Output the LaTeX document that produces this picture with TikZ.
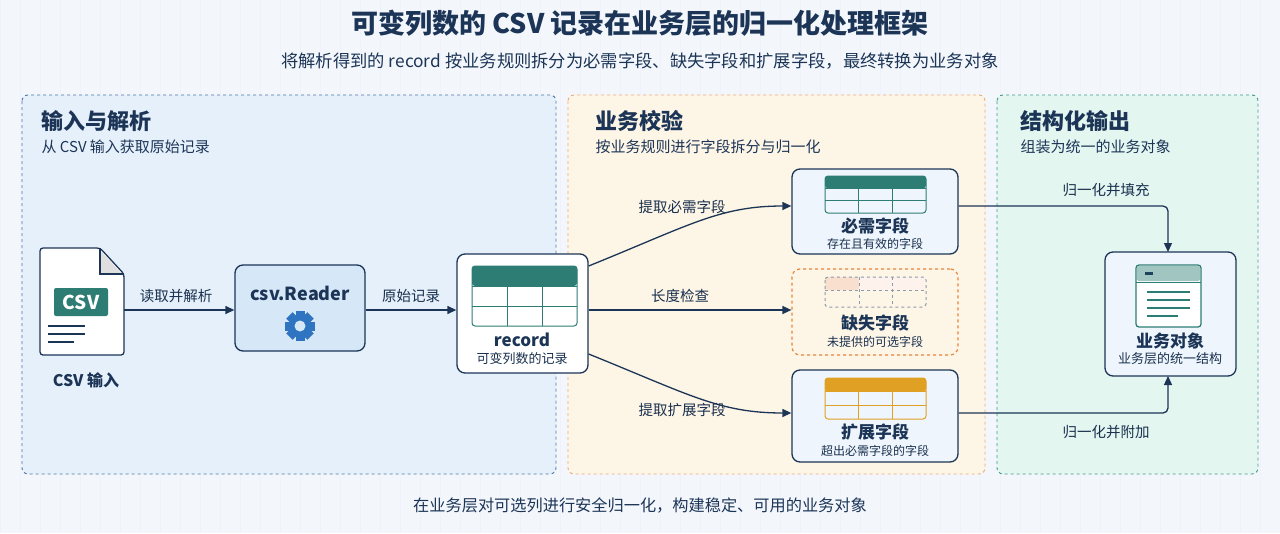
\documentclass[tikz,border=0pt]{standalone}
\usepackage{fontspec}
\setmainfont{Noto Sans CJK SC}
\usetikzlibrary{arrows.meta}
\definecolor{navy}{HTML}{1C3557}
\definecolor{teal}{HTML}{2E7D74}
\definecolor{gold}{HTML}{E0A024}
\definecolor{orng}{HTML}{E8843C}
\definecolor{bg}{HTML}{F3F7FB}
\definecolor{pblue}{HTML}{E6F0FB}
\definecolor{porng}{HTML}{FDF5E6}
\definecolor{pgrn}{HTML}{E4F6F0}
\definecolor{boxf}{HTML}{EEF5FC}
\definecolor{readf}{HTML}{D6E8F8}
\definecolor{gearb}{HTML}{2F74C0}
\definecolor{pbord}{HTML}{4A77A8}
\definecolor{gbord}{HTML}{3F9A8A}
\tikzset{
 x=1pt,y=-1pt,
 panel/.style={draw=#1, dashed, line width=0.9pt, rounded corners=6pt},
 box/.style={draw=navy, line width=1.3pt, rounded corners=8pt, fill=boxf},
 arr/.style={draw=navy, line width=1.3pt, -{Triangle[length=9pt,width=8pt]}},
 lab/.style={font=\fontsize{14.5}{16}\selectfont, text=navy!90!black},
 btitle/.style={font=\bfseries\fontsize{17}{19}\selectfont, text=navy},
 bsub/.style={font=\fontsize{12}{14}\selectfont, text=navy!90!black},
 ptitle/.style={anchor=west, font=\bfseries\fontsize{22}{24}\selectfont, text=navy},
 psub/.style={anchor=west, font=\fontsize{15}{17}\selectfont, text=navy},
}
\newcommand{\mytable}[6]{%
 \fill[#5, rounded corners=3pt] (#1,#2) rectangle (#3,{#2+(#4-#2)/3});
 \draw[#5, line width=1pt, rounded corners=3pt,#6] (#1,#2) rectangle (#3,#4);
 \draw[#5, line width=0.8pt,#6] (#1,{#2+(#4-#2)/3}) -- (#3,{#2+(#4-#2)/3})
   (#1,{#2+2*(#4-#2)/3}) -- (#3,{#2+2*(#4-#2)/3})
   ({#1+(#3-#1)/3},#2) -- ({#1+(#3-#1)/3},#4)
   ({#1+2*(#3-#1)/3},#2) -- ({#1+2*(#3-#1)/3},#4);}
\begin{document}
\begin{tikzpicture}
\useasboundingbox (0,0) rectangle (1280,533);
\fill[bg] (0,0) rectangle (1280,533);
\draw[blue!6, line width=0.4pt, step=20] (0,0) grid (1280,533);
% title
\node[font=\bfseries\fontsize{27}{29}\selectfont, text=navy] (title) at (640,23) {可变列数的 CSV 记录在业务层的归一化处理框架};
\node[font=\fontsize{17.3}{19}\selectfont, text=navy] (subtitle) at (640,61) {将解析得到的 record 按业务规则拆分为必需字段、缺失字段和扩展字段，最终转换为业务对象};
% panels
\draw[panel=pbord, fill=pblue] (22,95) rectangle (556,474);
\draw[panel=orng!70, fill=porng] (568,95) rectangle (985,474);
\draw[panel=gbord, fill=pgrn] (997,95) rectangle (1258,474);
\node[ptitle] (p1t) at (38,121) {输入与解析};
\node[psub] (p1s) at (38,147) {从 CSV 输入获取原始记录};
\node[ptitle] (p2t) at (592,121) {业务校验};
\node[psub] (p2s) at (592,147) {按业务规则进行字段拆分与归一化};
\node[ptitle] (p3t) at (1017,121) {结构化输出};
\node[psub] (p3s) at (1017,147) {组装为统一的业务对象};
% csv doc
\draw[navy, line width=1.3pt, fill=white, rounded corners=3pt] (40,248) -- (100,248) -- (124,274) -- (124,355) -- (40,355) -- cycle;
\fill[gray!25] (100,250) -- (100,274) -- (122,274) -- cycle;
\draw[navy, line width=1.2pt] (100,248) -- (100,274) -- (124,274);
\node[fill=teal, rounded corners=2pt, minimum width=54pt, minimum height=28pt, text=white, font=\bfseries\fontsize{19}{20}\selectfont, inner sep=0pt] (csvtag) at (81,302) {CSV};
\draw[navy, line width=1.4pt] (48,326) -- (85,326) (48,334) -- (85,334) (48,342) -- (74,342);
\node[draw=none, minimum width=84pt, minimum height=107pt] (doc) at (82,301.5) {};
\node[font=\bfseries\fontsize{16}{18}\selectfont, text=navy] (doclab) at (86,380) {CSV 输入};
% reader
\node[box, fill=readf, minimum width=130pt, minimum height=86pt] (reader) at (300,308) {};
\node[btitle, font=\bfseries\fontsize{18}{20}\selectfont] (readert) at (300,293) {csv.Reader};
\node[fill=gearb, circle, minimum size=22pt, inner sep=0pt] (gear) at (300,326) {};
\foreach \a in {0,45,...,315} \fill[gearb, rotate around={\a:(300,326)}] (295.5,311) rectangle (304.5,318);
\fill[readf] (300,326) circle (5.5pt);
% record
\node[box, fill=white, minimum width=131pt, minimum height=119pt] (record) at (522.5,313.5) {};
\mytable{472}{266}{577}{326}{teal}{}
\node[btitle] (recordt) at (522,340) {record};
\node[bsub, font=\fontsize{13}{15}\selectfont] (records) at (522,359) {可变列数的记录};
% arrows left
\draw[arr] (doc.east |- 0,310) -- (reader.west |- 0,310);
\node[lab] at (176,296) {读取并解析};
\draw[arr] (reader.east |- 0,310) -- (record.west |- 0,310);
\node[lab] at (411,296) {原始记录};
% required
\node[box, minimum width=166pt, minimum height=85pt] (req) at (875,211.5) {};
\mytable{825}{176}{926}{213}{teal}{}
\node[btitle] at (875,226) {必需字段};
\node[bsub] at (875,244) {存在且有效的字段};
% missing
\node[draw=orng, dashed, line width=1.2pt, rounded corners=8pt, fill=porng, minimum width=166pt, minimum height=86pt] (miss) at (875,312) {};
\fill[orng!25, rounded corners=3pt] (825,277) rectangle (859,290);
\fill[orng!10] (859,277) rectangle (926,290);
\draw[navy!50, dashed, line width=1pt, rounded corners=3pt] (825,277) rectangle (926,307);
\draw[navy!50, dashed, line width=0.8pt] (825,290) -- (926,290) (859,277) -- (859,307) (892,277) -- (892,307);
\node[btitle] at (875,323) {缺失字段};
\node[bsub] at (875,342) {未提供的可选字段};
% extension
\node[box, minimum width=166pt, minimum height=92pt] (ext) at (875,416) {};
\mytable{825}{378}{926}{419}{gold}{}
\node[btitle] at (875,432) {扩展字段};
\node[bsub] at (875,451) {超出必需字段的字段};
% record out arrows
\draw[arr] (record.east |- 0,266) .. controls (690,225) and (720,206) .. (req.west |- 0,206);
\node[lab] at (682,207) {提取必需字段};
\draw[arr] (record.east |- 0,310) -- (miss.west |- 0,310);
\node[lab] at (680,296) {长度检查};
\draw[arr] (record.east |- 0,354) .. controls (690,395) and (720,413) .. (ext.west |- 0,413);
\node[lab] at (682,410) {提取扩展字段};
% business object
\node[box, minimum width=131pt, minimum height=124pt] (obj) at (1170.5,314) {};
\draw[teal, line width=1.3pt, fill=white, rounded corners=3pt] (1136,265) rectangle (1201,327);
\fill[teal!45, rounded corners=2pt] (1137,266) rectangle (1200,281);
\draw[teal, line width=1pt] (1136,282) -- (1201,282);
\fill[navy!80!teal] (1145,272) rectangle (1153,275);
\draw[teal, line width=1.3pt] (1147,292) -- (1190,292) (1147,300) -- (1190,300) (1147,308) -- (1190,308) (1147,316) -- (1178,316);
\node[btitle] at (1170,341) {业务对象};
\node[bsub, font=\fontsize{13}{15}\selectfont] at (1170,359) {业务层的统一结构};
% right arrows
\draw[arr, rounded corners=5pt] (req.east |- 0,206) -- (1168,206) -- (1168,252);
\node[lab] at (1106,190) {归一化并填充};
\draw[arr, rounded corners=5pt] (ext.east |- 0,413) -- (1168,413) -- (1168,376);
\node[lab] at (1106,432) {归一化并附加};
% footer
\node[font=\fontsize{16.2}{18}\selectfont, text=navy] (footer) at (640,505) {在业务层对可选列进行安全归一化，构建稳定、可用的业务对象};
\end{tikzpicture}
\end{document}
